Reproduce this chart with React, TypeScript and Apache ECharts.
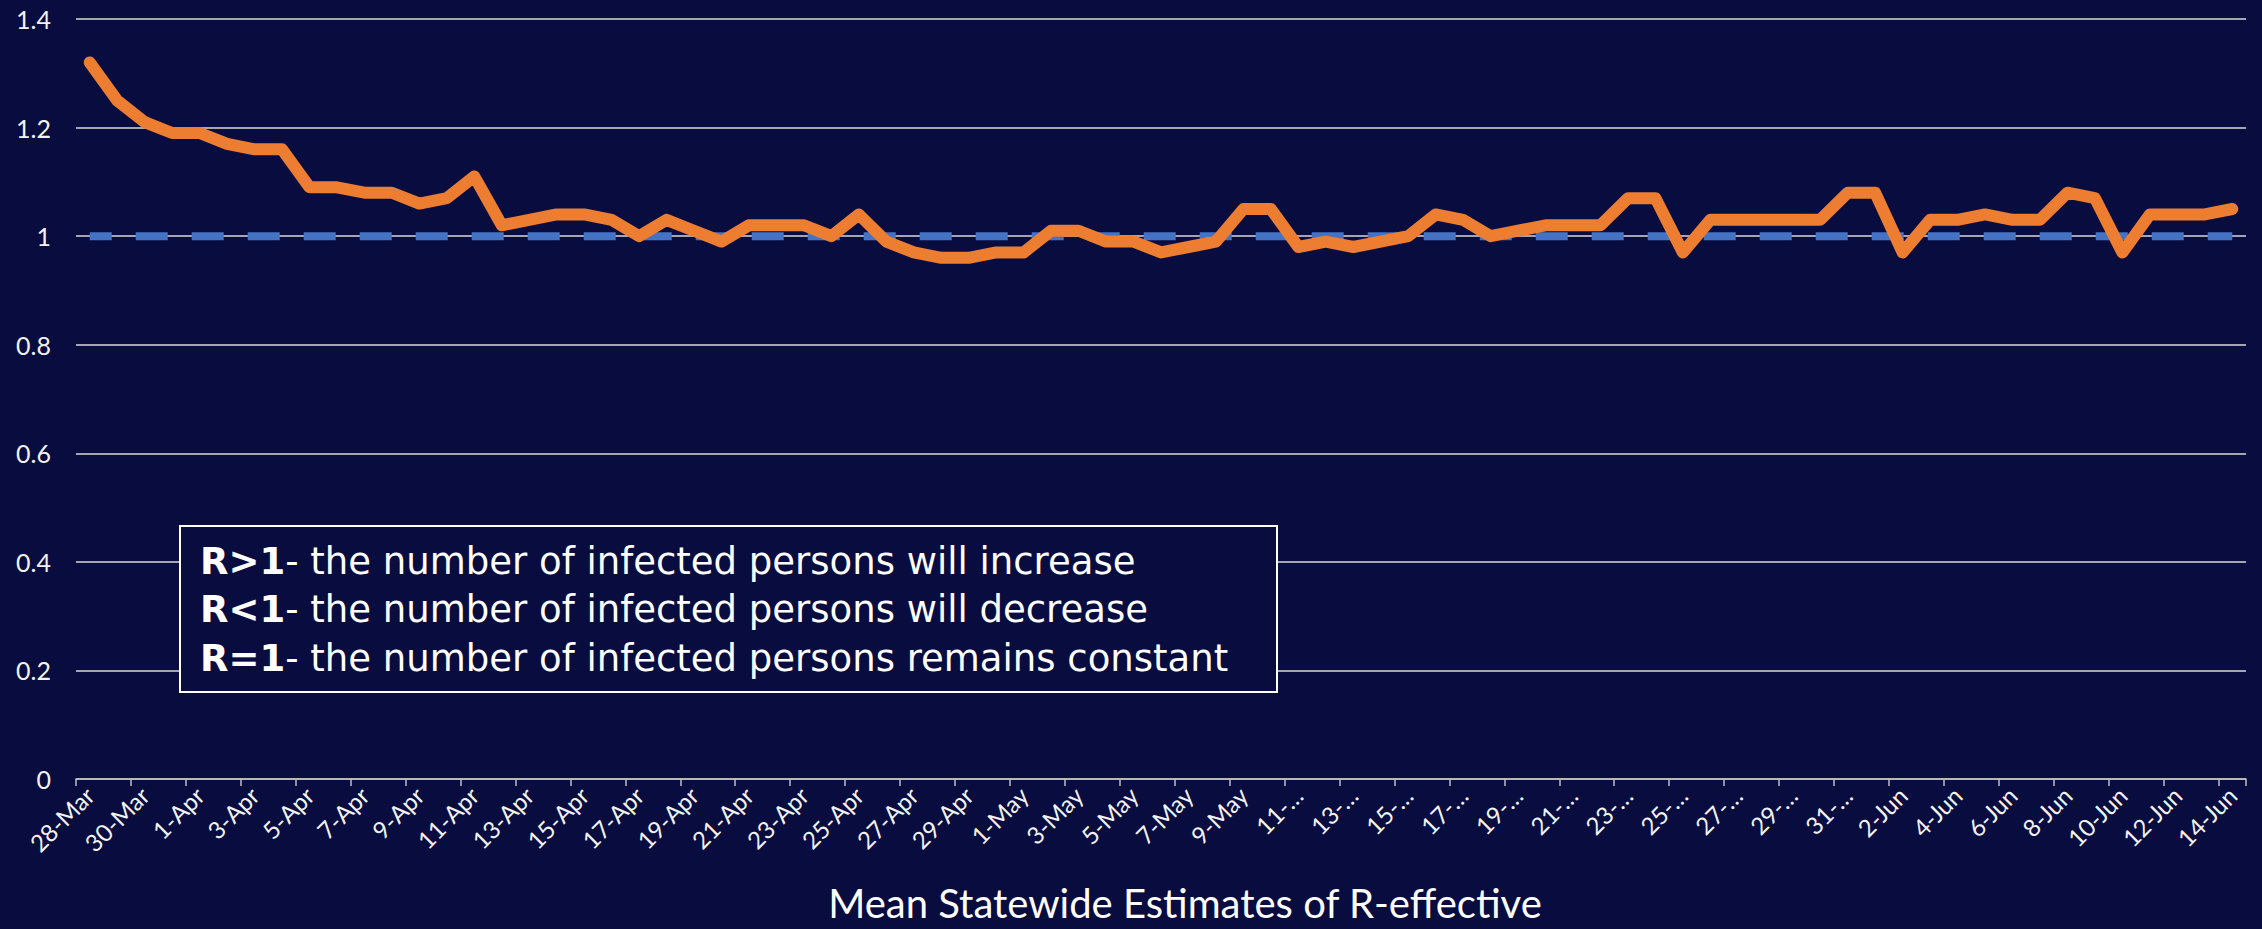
import React, { useEffect, useRef } from "react";
import * as echarts from "echarts";

const categories: string[] = [
  "28-Mar", "29-Mar", "30-Mar", "31-Mar",
  "1-Apr", "2-Apr", "3-Apr", "4-Apr", "5-Apr", "6-Apr", "7-Apr", "8-Apr", "9-Apr", "10-Apr",
  "11-Apr", "12-Apr", "13-Apr", "14-Apr", "15-Apr", "16-Apr", "17-Apr", "18-Apr", "19-Apr", "20-Apr",
  "21-Apr", "22-Apr", "23-Apr", "24-Apr", "25-Apr", "26-Apr", "27-Apr", "28-Apr", "29-Apr", "30-Apr",
  "1-May", "2-May", "3-May", "4-May", "5-May", "6-May", "7-May", "8-May", "9-May", "10-May",
  "11-May", "12-May", "13-May", "14-May", "15-May", "16-May", "17-May", "18-May", "19-May", "20-May",
  "21-May", "22-May", "23-May", "24-May", "25-May", "26-May", "27-May", "28-May", "29-May", "30-May",
  "31-May",
  "1-Jun", "2-Jun", "3-Jun", "4-Jun", "5-Jun", "6-Jun", "7-Jun", "8-Jun", "9-Jun", "10-Jun",
  "11-Jun", "12-Jun", "13-Jun", "14-Jun",
];

const rEffective: number[] = [
  1.32, 1.25, 1.21, 1.19,
  1.19, 1.17, 1.16, 1.16, 1.09, 1.09, 1.08, 1.08, 1.06, 1.07,
  1.11, 1.02, 1.03, 1.04, 1.04, 1.03, 1.00, 1.03, 1.01, 0.99,
  1.02, 1.02, 1.02, 1.00, 1.04, 0.99, 0.97, 0.96, 0.96, 0.97,
  0.97, 1.01, 1.01, 0.99, 0.99, 0.97, 0.98, 0.99, 1.05, 1.05,
  0.98, 0.99, 0.98, 0.99, 1.00, 1.04, 1.03, 1.00, 1.01, 1.02,
  1.02, 1.02, 1.07, 1.07, 0.97, 1.03, 1.03, 1.03, 1.03, 1.03,
  1.08,
  1.08, 0.97, 1.03, 1.03, 1.04, 1.03, 1.03, 1.08, 1.07, 0.97,
  1.04, 1.04, 1.04, 1.05,
];

const threshold: number[] = categories.map(() => 1);

const yTicks = { min: 0, max: 1.4, interval: 0.2 };

const noteLines: { key: string; rest: string }[] = [
  { key: "R>1", rest: "- the number of infected persons will increase" },
  { key: "R<1", rest: "- the number of infected persons will decrease" },
  { key: "R=1", rest: "- the number of infected persons remains constant" },
];

const axisTitle = "Mean Statewide Estimates of R-effective";

const BG = "#080c3f";
const FONT = "Lato, 'Open Sans', sans-serif";
const NOTE_FONT = "'DejaVu Sans', Lato, sans-serif";

export default function App() {
  const ref = useRef<HTMLDivElement>(null);

  useEffect(() => {
    if (!ref.current) return;
    const chart = echarts.init(ref.current, undefined, { renderer: "svg" });

    const noteTexts = noteLines.map((l, i) => ({
      type: "text",
      x: 200,
      y: 561 + i * 48.5,
      style: {
        text: `{b|${l.key}}{r|${l.rest}}`,
        verticalAlign: "middle",
        rich: {
          b: { fontFamily: NOTE_FONT, fontSize: 37, fontWeight: "bold", fill: "#ffffff" },
          r: { fontFamily: NOTE_FONT, fontSize: 37, fontWeight: "normal", fill: "#ffffff" },
        },
      },
      z: 101,
    }));

    chart.setOption({
      animation: false,
      backgroundColor: BG,
      textStyle: { fontFamily: FONT },
      grid: { left: 76, right: 16, top: 19, bottom: 150, containLabel: false },
      xAxis: {
        type: "category",
        data: categories,
        boundaryGap: true,
        axisLine: { lineStyle: { color: "#bfbfbf", width: 1.5 } },
        axisTick: { show: true, interval: 1, alignWithLabel: false, length: 7, lineStyle: { color: "#bfbfbf", width: 1.5 } },
        axisLabel: {
          interval: 1,
          rotate: 45,
          margin: 12,
          color: "#f2f2f2",
          fontSize: 24,
          fontFamily: FONT,
          formatter: (v: string) => {
            const [d, m] = v.split("-");
            if (m === "May" && parseInt(d, 10) >= 11) return `${d}-…`;
            return v;
          },
        },
        splitLine: { show: false },
      },
      yAxis: {
        type: "value",
        min: yTicks.min,
        max: yTicks.max,
        interval: yTicks.interval,
        axisLine: { show: false },
        axisTick: { show: false },
        axisLabel: {
          margin: 25,
          color: "#f2f2f2",
          fontSize: 25,
          fontFamily: FONT,
          formatter: (v: number) => String(Math.round(v * 10) / 10),
        },
        splitLine: { show: true, lineStyle: { color: "#d9d9d9", width: 1.5 } },
      },
      series: [
        {
          name: "Threshold",
          type: "line",
          data: threshold,
          symbol: "none",
          lineStyle: { color: "#4472c4", width: 8, type: [32, 24], dashOffset: 10, cap: "butt" },
          z: 2,
        },
        {
          name: "R-effective",
          type: "line",
          data: rEffective,
          symbol: "none",
          lineStyle: { color: "#ed7d31", width: 12, cap: "round", join: "round" },
          z: 3,
        },
      ],
      graphic: [
        {
          type: "rect",
          shape: { x: 180, y: 526, width: 1097, height: 166 },
          style: { fill: BG, stroke: "#ffffff", lineWidth: 2 },
          z: 100,
        },
        ...noteTexts,
        {
          type: "text",
          x: 1185,
          y: 903,
          style: {
            text: axisTitle,
            fontFamily: FONT,
            fontSize: 40,
            fill: "#ffffff",
            align: "center",
            verticalAlign: "middle",
          },
          z: 100,
        },
      ],
    });

    return () => chart.dispose();
  }, []);

  return (
    <div
      ref={ref}
      style={{ position: "fixed", left: 0, top: 0, width: 2262, height: 929 }}
    />
  );
}
